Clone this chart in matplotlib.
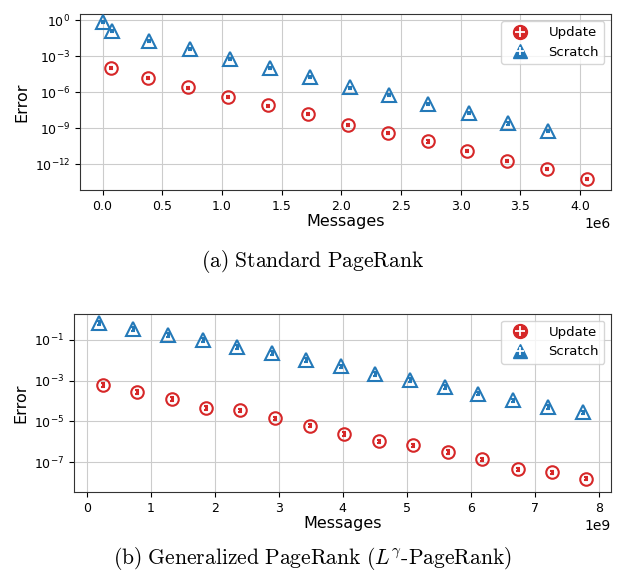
import numpy as np
import matplotlib
matplotlib.use("Agg")
import matplotlib.pyplot as plt
from matplotlib.lines import Line2D

plt.rcParams['mathtext.fontset'] = 'cm'

# (a) Standard PageRank -- messages in 1e6, error as log10
std_upd_x = [0.067, 0.377, 0.713, 1.048, 1.384, 1.719, 2.054, 2.39, 2.725, 3.05, 3.39, 3.72, 4.06]
std_upd_logy = [-4.0, -4.83, -5.6, -6.4, -7.1, -7.8, -8.7, -9.4, -10.1, -10.9, -11.7, -12.4, -13.25]
std_scr_x = [0.0, 0.08, 0.39, 0.73, 1.07, 1.4, 1.74, 2.07, 2.4, 2.73, 3.07, 3.4, 3.73]
std_scr_logy = [-0.1, -0.9, -1.7, -2.4, -3.2, -4.0, -4.75, -5.6, -6.25, -7.0, -7.75, -8.6, -9.25]

# (b) Generalized PageRank -- messages in 1e9, error as log10
gen_upd_x = [0.25, 0.78, 1.33, 1.87, 2.4, 2.94, 3.48, 4.02, 4.56, 5.1, 5.64, 6.18, 6.73, 7.27, 7.8]
gen_upd_logy = [-3.2, -3.54, -3.9, -4.32, -4.46, -4.85, -5.2, -5.6, -5.98, -6.17, -6.5, -6.85, -7.34, -7.5, -7.8]
gen_scr_x = [0.19, 0.73, 1.27, 1.81, 2.35, 2.89, 3.43, 3.97, 4.5, 5.05, 5.59, 6.12, 6.66, 7.2, 7.75]
gen_scr_logy = [-0.17, -0.46, -0.76, -1.0, -1.34, -1.63, -1.98, -2.3, -2.66, -2.95, -3.3, -3.63, -3.96, -4.27, -4.56]

rel_err = 0.2  # small spread drawn as error bars inside the markers

RED = '#d62728'
BLUE = '#2479b8'


def draw(ax, ux, uly, sx, sly, scale, ylim, yticks):
    uy = 10.0 ** np.array(uly)
    sy = 10.0 ** np.array(sly)
    ax.errorbar(np.array(ux) * scale, uy, yerr=rel_err * uy, fmt='o', color=RED,
                mfc='none', mec=RED, mew=1.5, ms=9, capsize=1.2, elinewidth=2.2,
                capthick=1.2, zorder=3)
    ax.errorbar(np.array(sx) * scale, sy, yerr=rel_err * sy, fmt='^', color=BLUE,
                mfc='none', mec=BLUE, mew=1.5, ms=10, capsize=1.2, elinewidth=2.2,
                capthick=1.2, zorder=3)
    ax.set_yscale('log')
    ax.set_ylim(*ylim)
    ax.set_yticks(yticks)
    ax.minorticks_off()
    ax.grid(True, color='#cccccc', linewidth=0.8)
    ax.set_axisbelow(True)
    ax.set_xlabel('Messages', fontsize=11.5, labelpad=1)
    ax.set_ylabel('Error', fontsize=11.5)
    ax.tick_params(labelsize=9)
    for s in ax.spines.values():
        s.set_color('#333333')

    # legend handles: filled marker with a white cross on top
    h_upd = (Line2D([], [], marker='o', color=RED, ls='none', ms=10),
             Line2D([], [], marker='+', color='white', ls='none', ms=7, mew=1.3))
    h_scr = (Line2D([], [], marker='^', color=BLUE, ls='none', ms=10),
             Line2D([], [], marker='+', color='white', ls='none', ms=6, mew=1.3))
    ax.legend([h_upd, h_scr], ['Update', 'Scratch'], loc='upper right',
              fontsize=9.5, borderpad=0.4, handletextpad=1.2)


fig = plt.figure(figsize=(6.19, 5.73), dpi=100)

ax1 = fig.add_axes([0.129, 0.668, 0.858, 0.307])
draw(ax1, std_upd_x, std_upd_logy, std_scr_x, std_scr_logy, 1e6,
     (10 ** -14.17, 10 ** 0.5), [1e0, 1e-3, 1e-6, 1e-9, 1e-12])
ax1.set_xlim(-0.19e6, 4.26e6)

ax2 = fig.add_axes([0.1195, 0.1414, 0.8675, 0.3106])
draw(ax2, gen_upd_x, gen_upd_logy, gen_scr_x, gen_scr_logy, 1e9,
     (10 ** -8.46, 10 ** 0.27), [1e-1, 1e-3, 1e-5, 1e-7])
ax2.set_xlim(-0.2e9, 8.19e9)

fig.text(0.505, 0.543, r'$\mathrm{(a)\ Standard\ PageRank}$', ha='center', va='center', fontsize=15.5)
fig.text(0.505, 0.026, r'$\mathrm{(b)\ Generalized\ PageRank\ (}L^{\gamma}\text{-}\mathrm{PageRank)}$',
         ha='center', va='center', fontsize=15.5)

fig.savefig('out.png', dpi=100)
